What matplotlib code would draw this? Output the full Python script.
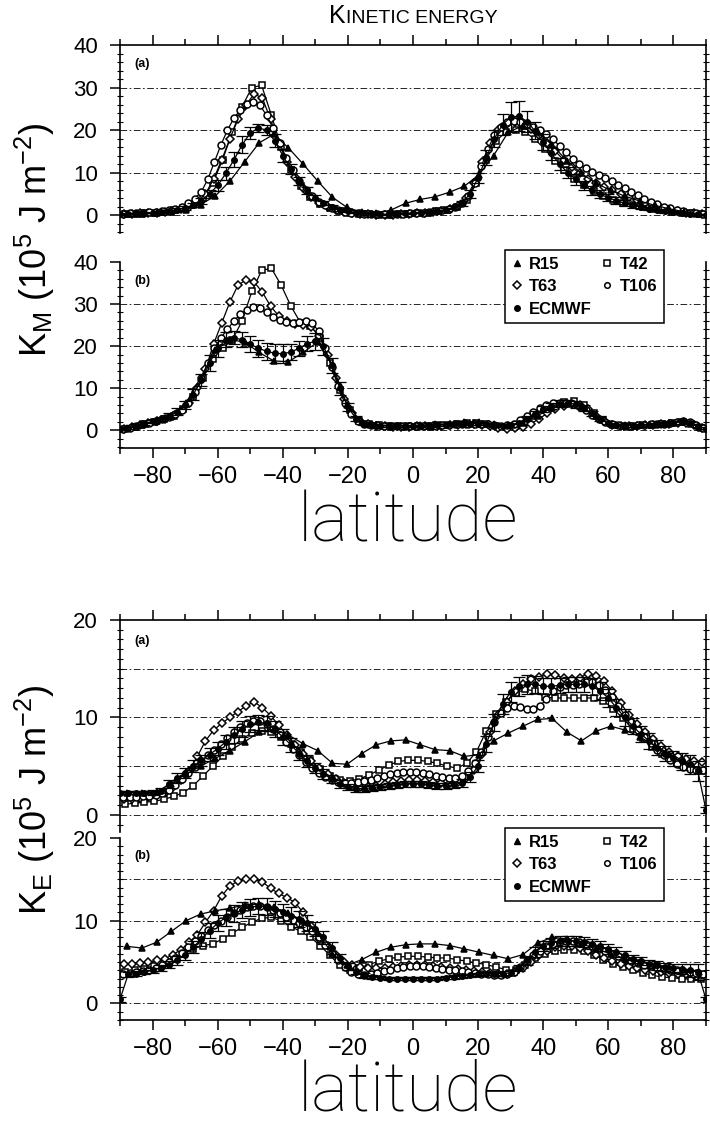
import numpy as np
import matplotlib
matplotlib.use("Agg")
import matplotlib.pyplot as plt
from matplotlib.lines import Line2D
from matplotlib.ticker import MultipleLocator

plt.rcParams['font.family'] = ['Liberation Sans', 'DejaVu Sans']
plt.rcParams['mathtext.default'] = 'regular'

# широтные сетки моделей
lat_r15 = np.arange(-87.75, 88, 4.5)
lat_t42 = np.arange(-88.5, 89, 3.0)
lat_t63 = np.arange(-88.75, 89, 2.5)
lat_t106 = np.arange(-89, 90, 2.0)
lat_ec = np.arange(-90, 90.1, 2.5)

series_names = ['R15', 'T42', 'T63', 'T106', 'ECMWF']

# ---- K_M, панель (a)
km_a_r15 = [0.2, 0.3, 0.5, 0.8, 1.3, 2.5, 4.5, 8.0, 12.5, 17.0,
            19.0, 15.8, 12.0, 8.0, 4.2, 1.8, 0.7, 0.4, 1.2, 2.8,
            3.7, 4.3, 5.4, 6.8, 9.5, 14.0, 19.5, 21.0, 19.5, 16.5,
            12.8, 9.8, 7.5, 5.8, 4.4, 3.3, 2.3, 1.5, 0.8, 0.3]
km_a_t42 = [0.2, 0.3, 0.4, 0.6, 0.8, 1.1, 1.6, 2.5, 4.0, 7.5,
            13.0, 19.5, 25.5, 30.0, 30.5, 23.5, 16.0, 10.5, 6.8, 4.3,
            2.7, 1.7, 1.0, 0.6, 0.3, 0.2, 0.1, 0.1, 0.2, 0.3,
            0.4, 0.6, 0.9, 1.3, 2.0, 3.5, 7.5, 13.0, 17.5, 19.5,
            20.0, 19.5, 17.8, 15.5, 12.8, 10.5, 8.5, 7.0, 5.6, 4.5,
            3.6, 2.9, 2.3, 1.8, 1.4, 1.1, 0.8, 0.6, 0.4, 0.2]
km_a_t63 = [0.2, 0.3, 0.4, 0.5, 0.6, 0.8, 1.0, 1.4, 2.0, 3.0,
            5.0, 8.5, 13.0, 18.0, 22.5, 26.0, 28.5, 27.5, 22.5, 17.0,
            12.5, 9.0, 6.3, 4.3, 2.9, 2.0, 1.3, 0.8, 0.5, 0.3,
            0.2, 0.1, 0.1, 0.1, 0.2, 0.3, 0.4, 0.5, 0.7, 1.0,
            1.4, 2.2, 4.0, 7.5, 12.5, 17.0, 20.0, 21.5, 22.0, 21.5,
            20.3, 18.8, 17.0, 15.0, 13.0, 11.3, 9.8, 8.6, 7.6, 6.7,
            5.8, 5.0, 4.2, 3.5, 2.8, 2.2, 1.7, 1.3, 0.9, 0.6,
            0.4, 0.2]
km_a_t106 = [0.3, 0.4, 0.5, 0.6, 0.7, 0.8, 1.0, 1.2, 1.5, 2.0,
             2.8, 3.9, 5.5, 8.5, 12.5, 16.5, 20.0, 22.8, 24.8, 26.2,
             26.6, 25.8, 23.5, 20.5, 17.0, 13.5, 10.5, 8.0, 6.0, 4.4,
             3.2, 2.3, 1.6, 1.1, 0.8, 0.6, 0.4, 0.3, 0.2, 0.2,
             0.2, 0.2, 0.3, 0.3, 0.4, 0.5, 0.6, 0.7, 0.9, 1.1,
             1.4, 1.9, 2.8, 4.5, 7.5, 11.5, 15.5, 18.8, 20.8, 21.8,
             22.2, 22.0, 21.5, 20.8, 20.0, 19.0, 17.8, 16.3, 14.8, 13.3,
             12.0, 11.0, 10.2, 9.5, 8.8, 8.0, 7.2, 6.3, 5.5, 4.7,
             3.9, 3.2, 2.6, 2.0, 1.6, 1.2, 0.9, 0.6, 0.4, 0.2]
km_a_ec = [0.2, 0.3, 0.4, 0.5, 0.6, 0.8, 1.0, 1.3, 1.7, 2.4,
           3.4, 5.0, 7.0, 9.8, 13.0, 16.5, 19.3, 20.5, 20.0, 17.5,
           14.0, 10.8, 8.0, 5.8, 4.1, 2.8, 1.9, 1.3, 0.9, 0.6,
           0.4, 0.3, 0.2, 0.2, 0.3, 0.4, 0.5, 0.6, 0.8, 1.0,
           1.3, 1.8, 2.8, 5.0, 8.8, 13.5, 18.0, 21.3, 23.0, 23.3,
           22.0, 19.8, 17.2, 14.5, 12.0, 10.0, 8.4, 7.0, 5.8, 4.9,
           4.1, 3.4, 2.8, 2.3, 1.9, 1.5, 1.2, 0.9, 0.7, 0.5,
           0.3, 0.2, 0.1]
km_a_err = [0.1, 0.1, 0.1, 0.1, 0.1, 0.2, 0.2, 0.3, 0.4, 0.5,
            0.7, 1.0, 1.3, 1.5, 1.8, 2.0, 1.5, 1.0, 1.2, 1.5,
            1.5, 1.2, 1.0, 0.8, 0.6, 0.5, 0.4, 0.3, 0.2, 0.2,
            0.1, 0.1, 0.1, 0.1, 0.1, 0.1, 0.1, 0.2, 0.2, 0.3,
            0.3, 0.4, 0.6, 0.9, 1.2, 1.8, 2.0, 2.5, 3.5, 3.5,
            2.5, 2.0, 1.8, 1.5, 1.4, 1.3, 1.2, 1.0, 1.0, 0.9,
            0.8, 0.8, 0.7, 0.6, 0.5, 0.4, 0.3, 0.3, 0.2, 0.2,
            0.1, 0.1, 0.1]

# ---- K_M, панель (b)
km_b_r15 = [0.5, 1.3, 2.1, 3.5, 6.5, 12.5, 19.0, 21.5, 21.0, 18.5,
            16.5, 16.3, 18.5, 21.0, 15.5, 6.0, 2.0, 1.3, 1.1, 1.1,
            1.2, 1.4, 1.6, 1.9, 2.0, 1.6, 1.2, 1.8, 3.5, 5.3,
            6.2, 5.5, 3.3, 1.6, 1.2, 1.3, 1.5, 1.8, 2.2, 0.8]
km_b_t42 = [0.4, 0.9, 1.5, 2.0, 2.6, 3.4, 5.0, 8.0, 12.5, 17.0,
            19.5, 21.5, 26.0, 33.0, 38.0, 38.5, 34.5, 29.5, 25.5, 24.8,
            22.0, 16.0, 9.5, 4.8, 2.3, 1.4, 1.2, 1.1, 1.0, 1.0,
            1.0, 1.1, 1.2, 1.3, 1.5, 1.7, 1.8, 1.6, 1.1, 0.8,
            1.0, 2.0, 3.5, 4.8, 5.9, 6.7, 6.9, 6.0, 4.2, 2.4,
            1.3, 1.0, 1.1, 1.2, 1.3, 1.5, 1.8, 2.0, 1.6, 0.6]
km_b_t63 = [0.3, 0.8, 1.3, 1.7, 2.1, 2.7, 3.4, 4.5, 6.5, 10.0,
            14.5, 20.5, 25.5, 30.5, 34.5, 35.8, 35.2, 32.8, 29.5, 27.2,
            26.0, 25.3, 25.0, 24.5, 22.5, 18.0, 12.5, 7.5, 4.0, 2.2,
            1.4, 1.1, 1.0, 0.9, 0.9, 0.9, 1.0, 1.0, 1.1, 1.1,
            1.2, 1.3, 1.4, 1.4, 1.3, 1.0, 0.6, 0.4, 0.5, 0.8,
            1.5, 2.8, 4.0, 5.0, 5.8, 6.2, 6.0, 5.0, 3.5, 2.2,
            1.3, 1.0, 1.0, 1.1, 1.2, 1.3, 1.4, 1.6, 1.8, 1.7,
            1.2, 0.5]
km_b_t106 = [0.3, 0.6, 1.0, 1.4, 1.8, 2.2, 2.6, 3.1, 3.8, 4.8,
             6.5, 9.0, 12.5, 16.0, 19.5, 22.0, 24.0, 26.0, 27.6, 28.6,
             29.2, 29.0, 28.0, 27.0, 26.3, 25.8, 25.6, 25.8, 26.0, 25.6,
             23.5, 19.5, 15.0, 10.5, 6.5, 3.8, 2.3, 1.6, 1.3, 1.2,
             1.1, 1.0, 1.0, 1.0, 1.0, 1.0, 1.0, 1.1, 1.1, 1.2,
             1.3, 1.4, 1.5, 1.6, 1.6, 1.5, 1.4, 1.2, 1.1, 1.2,
             1.6, 2.4, 3.4, 4.4, 5.3, 6.0, 6.4, 6.6, 6.6, 6.3,
             5.7, 4.8, 3.7, 2.7, 1.9, 1.4, 1.2, 1.1, 1.1, 1.2,
             1.3, 1.4, 1.5, 1.6, 1.8, 2.0, 2.1, 1.9, 1.3, 0.5]
km_b_ec = [0.2, 0.6, 1.1, 1.6, 2.1, 2.7, 3.4, 4.4, 6.0, 8.5,
           12.0, 16.0, 19.5, 21.5, 22.0, 21.5, 20.5, 19.5, 18.8, 18.3,
           18.2, 18.6, 19.5, 20.6, 21.2, 20.0, 15.5, 10.0, 5.5, 2.8,
           1.6, 1.2, 1.1, 1.0, 1.0, 1.0, 1.0, 1.0, 1.1, 1.2,
           1.3, 1.4, 1.5, 1.6, 1.6, 1.5, 1.3, 1.1, 1.2, 1.8,
           2.8, 3.9, 5.0, 5.8, 6.3, 6.5, 6.2, 5.3, 4.0, 2.8,
           1.8, 1.3, 1.1, 1.1, 1.2, 1.3, 1.4, 1.6, 1.8, 2.0,
           1.8, 1.1, 0.3]
km_b_err = [0.1, 0.2, 0.3, 0.3, 0.4, 0.5, 0.6, 0.8, 1.0, 1.3,
            1.5, 1.8, 2.0, 1.8, 1.6, 1.8, 2.0, 2.0, 2.0, 2.2,
            2.2, 2.0, 1.8, 1.8, 2.0, 2.0, 1.8, 1.5, 1.0, 0.6,
            0.3, 0.2, 0.2, 0.2, 0.2, 0.2, 0.2, 0.2, 0.2, 0.2,
            0.2, 0.2, 0.3, 0.3, 0.3, 0.3, 0.3, 0.3, 0.3, 0.4,
            0.5, 0.6, 0.7, 0.8, 0.8, 0.8, 0.8, 0.7, 0.6, 0.5,
            0.4, 0.3, 0.3, 0.3, 0.3, 0.3, 0.3, 0.3, 0.3, 0.4,
            0.4, 0.3, 0.1]

# ---- K_E, панель (a)
ke_a_r15 = [2.3, 2.3, 2.4, 3.2, 4.2, 5.0, 5.8, 6.6, 7.5, 8.5,
            8.8, 8.2, 7.3, 6.6, 5.3, 5.2, 6.3, 7.2, 7.6, 7.7,
            7.2, 6.7, 6.6, 6.0, 6.2, 7.6, 8.4, 9.1, 9.8, 9.9,
            8.5, 7.6, 8.6, 9.1, 8.7, 8.0, 7.1, 6.3, 5.5, 4.7]
ke_a_t42 = [1.1, 1.2, 1.3, 1.4, 1.6, 1.9, 2.3, 3.0, 4.0, 5.0,
            6.0, 7.0, 7.8, 8.4, 8.6, 8.5, 8.0, 7.3, 6.5, 5.6,
            4.7, 4.0, 3.6, 3.5, 3.7, 4.1, 4.6, 5.1, 5.5, 5.6,
            5.6, 5.5, 5.3, 5.0, 4.8, 5.3, 6.5, 8.6, 10.4, 11.6,
            12.5, 12.9, 12.7, 12.1, 12.0, 12.0, 12.0, 12.0, 12.0, 11.7,
            10.9, 9.9, 8.8, 7.9, 7.0, 6.3, 5.6, 5.1, 4.8, 4.5]
ke_a_t63 = [1.6, 1.6, 1.7, 1.8, 2.0, 2.3, 2.9, 3.6, 4.5, 6.0,
            7.6, 8.7, 9.4, 10.0, 10.6, 11.2, 11.6, 11.0, 10.2, 9.2,
            8.2, 7.2, 6.3, 5.5, 4.8, 4.2, 3.7, 3.3, 3.0, 2.9,
            2.9, 3.0, 3.2, 3.4, 3.5, 3.6, 3.6, 3.5, 3.4, 3.3,
            3.3, 3.4, 3.8, 4.6, 6.3, 8.5, 10.3, 11.6, 12.7, 13.4,
            13.9, 14.2, 14.5, 14.4, 14.0, 13.9, 14.1, 14.5, 14.3, 13.7,
            12.7, 11.5, 10.3, 9.3, 8.5, 7.8, 7.1, 6.5, 6.0, 5.7,
            5.5, 5.4]
ke_a_t106 = [1.8, 1.8, 1.8, 1.9, 1.9, 2.0, 2.2, 2.6, 3.1, 3.7,
             4.3, 4.9, 5.5, 6.1, 6.7, 7.3, 7.9, 8.5, 9.0, 9.4,
             9.6, 9.6, 9.3, 8.8, 8.2, 7.5, 6.8, 6.1, 5.4, 4.8,
             4.3, 3.9, 3.6, 3.4, 3.3, 3.3, 3.4, 3.5, 3.6, 3.8,
             4.0, 4.2, 4.3, 4.4, 4.4, 4.4, 4.3, 4.2, 4.0, 3.9,
             3.8, 3.8, 4.0, 4.5, 5.3, 6.5, 8.0, 9.5, 10.5, 11.0,
             11.2, 11.1, 10.9, 10.9, 11.2, 11.9, 12.7, 13.1, 13.3, 13.3,
             13.4, 13.6, 13.6, 13.3, 12.8, 12.1, 11.2, 10.3, 9.5, 8.7,
             8.0, 7.4, 6.7, 6.1, 5.6, 5.2, 4.9, 4.7, 4.6, 4.6]
ke_a_ec = [2.3, 2.3, 2.3, 2.3, 2.3, 2.5, 3.2, 3.8, 4.3, 5.0,
           5.6, 6.2, 6.8, 7.5, 8.2, 8.8, 9.3, 9.5, 9.4, 8.8,
           8.0, 7.2, 6.3, 5.5, 4.8, 4.2, 3.7, 3.2, 2.9, 2.7,
           2.7, 2.8, 2.9, 3.0, 3.1, 3.2, 3.2, 3.2, 3.1, 3.0,
           3.0, 3.1, 3.3, 3.9, 5.0, 7.3, 9.5, 11.4, 12.6, 13.2,
           13.4, 13.4, 13.2, 13.2, 13.3, 13.4, 13.4, 13.4, 13.2, 12.7,
           12.0, 11.0, 10.0, 9.1, 8.3, 7.6, 6.9, 6.3, 5.8, 5.5,
           5.2, 4.5, 0.5]
ke_a_err = [0.2, 0.2, 0.2, 0.2, 0.3, 0.3, 0.4, 0.5, 0.5, 0.6,
            0.6, 0.7, 0.7, 0.7, 0.8, 0.8, 0.8, 0.8, 0.8, 0.8,
            0.8, 0.7, 0.7, 0.6, 0.5, 0.5, 0.4, 0.4, 0.3, 0.3,
            0.3, 0.3, 0.3, 0.3, 0.3, 0.3, 0.3, 0.3, 0.3, 0.3,
            0.3, 0.3, 0.4, 0.5, 0.6, 0.8, 0.9, 1.0, 1.0, 1.0,
            1.0, 0.9, 0.8, 0.8, 0.8, 0.8, 0.8, 0.8, 0.9, 0.9,
            0.9, 0.9, 0.9, 0.8, 0.8, 0.8, 0.8, 0.8, 0.8, 0.9,
            1.0, 1.0, 0.3]

# ---- K_E, панель (b)
ke_b_r15 = [6.9, 6.7, 7.4, 8.7, 10.0, 10.8, 11.2, 11.5, 11.9, 12.0,
            11.6, 10.9, 10.0, 8.5, 6.0, 4.6, 5.3, 6.2, 6.8, 7.1,
            7.2, 7.2, 7.0, 6.6, 6.2, 5.8, 5.4, 5.9, 7.3, 8.0,
            7.8, 7.2, 6.6, 6.0, 5.4, 5.0, 4.7, 4.4, 4.1, 3.8]
ke_b_t42 = [3.8, 4.0, 4.2, 4.5, 4.9, 5.4, 6.0, 6.6, 7.0, 7.2,
            7.8, 8.5, 9.2, 9.8, 10.3, 10.4, 10.0, 9.3, 8.7, 8.0,
            7.0, 5.8, 4.6, 4.0, 4.3, 4.7, 5.1, 5.4, 5.6, 5.7,
            5.7, 5.6, 5.5, 5.5, 5.3, 5.1, 4.9, 4.7, 4.4, 4.1,
            4.0, 4.6, 5.5, 6.0, 6.3, 6.5, 6.5, 6.3, 5.9, 5.3,
            4.8, 4.4, 4.0, 3.7, 3.4, 3.2, 3.1, 3.0, 2.9, 2.9]
ke_b_t63 = [4.8, 4.8, 4.9, 5.0, 5.2, 5.4, 5.9, 6.5, 7.4, 8.3,
            9.8, 11.2, 13.0, 14.2, 14.8, 15.0, 15.0, 14.7, 13.9, 13.3,
            12.8, 12.2, 11.0, 9.4, 7.8, 6.9, 5.9, 5.0, 4.6, 4.4,
            4.3, 4.3, 4.3, 4.4, 4.5, 4.6, 4.6, 4.6, 4.5, 4.4,
            4.3, 4.2, 4.0, 3.9, 3.8, 3.7, 3.6, 3.6, 3.8, 4.3,
            5.0, 5.8, 6.4, 6.8, 6.9, 6.9, 6.7, 6.3, 5.9, 5.5,
            5.1, 4.8, 4.5, 4.3, 4.1, 3.9, 3.8, 3.7, 3.6, 3.5,
            3.4, 3.4]
ke_b_t106 = [3.6, 3.7, 3.8, 3.9, 4.1, 4.3, 4.6, 5.0, 5.5, 6.1,
             6.8, 7.5, 8.2, 8.9, 9.5, 10.0, 10.5, 10.9, 11.3, 11.6,
             11.8, 11.8, 11.6, 11.3, 10.9, 10.5, 10.1, 9.7, 9.2, 8.7,
             8.0, 7.1, 6.1, 5.2, 4.4, 3.8, 3.5, 3.4, 3.5, 3.7,
             3.9, 4.1, 4.3, 4.4, 4.5, 4.5, 4.5, 4.4, 4.3, 4.2,
             4.1, 4.0, 3.9, 3.8, 3.7, 3.6, 3.5, 3.4, 3.4, 3.5,
             3.8, 4.4, 5.1, 5.8, 6.4, 6.9, 7.2, 7.4, 7.5, 7.5,
             7.4, 7.2, 6.9, 6.6, 6.3, 6.0, 5.7, 5.4, 5.1, 4.9,
             4.7, 4.5, 4.3, 4.2, 4.1, 4.0, 3.9, 3.8, 3.7, 3.6]
ke_b_ec = [0.5, 3.5, 3.6, 3.8, 4.0, 4.3, 4.7, 5.2, 5.9, 6.8,
           7.8, 8.8, 9.7, 10.4, 10.9, 11.3, 11.6, 11.8, 11.7, 11.4,
           11.0, 10.6, 10.2, 9.7, 9.0, 8.0, 6.7, 5.5, 4.5, 3.8,
           3.4, 3.2, 3.1, 3.0, 3.0, 3.0, 3.0, 3.0, 3.0, 3.0,
           3.1, 3.2, 3.3, 3.4, 3.5, 3.6, 3.6, 3.6, 3.7, 4.3,
           5.2, 6.2, 6.9, 7.3, 7.5, 7.6, 7.5, 7.4, 7.2, 6.9,
           6.6, 6.2, 5.8, 5.4, 5.1, 4.8, 4.6, 4.4, 4.3, 4.2,
           4.0, 3.8, 0.5]
ke_b_err = [0.3, 0.3, 0.3, 0.3, 0.3, 0.4, 0.4, 0.5, 0.6, 0.7,
            0.8, 0.9, 1.0, 1.0, 1.0, 1.0, 1.0, 1.0, 1.0, 1.0,
            1.0, 1.0, 1.0, 1.0, 0.9, 0.8, 0.7, 0.5, 0.4, 0.3,
            0.3, 0.2, 0.2, 0.2, 0.2, 0.2, 0.2, 0.2, 0.2, 0.2,
            0.2, 0.2, 0.2, 0.2, 0.2, 0.2, 0.2, 0.3, 0.3, 0.4,
            0.5, 0.6, 0.6, 0.6, 0.6, 0.6, 0.6, 0.6, 0.6, 0.6,
            0.6, 0.6, 0.5, 0.5, 0.5, 0.5, 0.5, 0.5, 0.5, 0.6,
            0.8, 1.0, 0.3]

#1. Фигура в пикселях исходника
W, H = 710, 1130
fig = plt.figure(figsize=(W / 100, H / 100), dpi=100)


def add_ax(top, bottom):
    return fig.add_axes([120 / W, 1 - bottom / H, 586 / W, (bottom - top) / H])


grid_ls = (0, (8, 3, 2, 3))


def panel(ax, data, ylim, ymajor, yminor, grid, tag, upper):
    r15, t42, t63, t106, ec, err = data
    for g in grid:
        ax.axhline(g, color='k', lw=0.6, ls=grid_ls, zorder=0)
    kw = dict(color='k', lw=0.9, mec='k', mew=1.1)
    ax.plot(lat_t42, t42, marker='s', ms=5.0, mfc='white', **kw)
    ax.plot(lat_t63, t63, marker='D', ms=4.5, mfc='white', **kw)
    ax.plot(lat_t106, t106, marker='o', ms=5.0, mfc='white', **kw)
    ax.errorbar(lat_ec, ec, yerr=err, fmt='-o', color='k', lw=0.9, ms=4.0,
                elinewidth=0.9, capsize=4, capthick=0.9)
    ax.plot(lat_r15, r15, marker='^', ms=4.2, mfc='k', **kw)

    ax.set_xlim(-90, 90)
    ax.set_ylim(*ylim)
    ax.patch.set_alpha(0)
    for s in ax.spines.values():
        s.set_linewidth(1.2)
    ax.spines['bottom'].set_visible(not upper)
    ax.spines['top'].set_visible(upper)

    ax.xaxis.set_major_locator(MultipleLocator(20))
    ax.xaxis.set_minor_locator(MultipleLocator(10))
    ax.yaxis.set_major_locator(MultipleLocator(ymajor))
    ax.yaxis.set_minor_locator(MultipleLocator(yminor))
    ax.tick_params(axis='x', which='both', direction='out', width=1.1,
                   top=upper, bottom=not upper, labeltop=False,
                   labelbottom=not upper, labelsize=17, pad=6)
    ax.tick_params(axis='x', which='major', length=7)
    ax.tick_params(axis='x', which='minor', length=4)
    ax.tick_params(axis='y', which='major', direction='out', length=7,
                   width=1.1, labelsize=16, pad=9, right=False)
    ax.tick_params(axis='y', which='minor', direction='inout', length=4,
                   width=0.8, right=True)
    ax.text(0.025, 0.9, tag, transform=ax.transAxes, fontsize=9,
            fontweight='bold', va='center')


km_a = add_ax(45, 233)
km_b = add_ax(262, 448)
ke_a = add_ax(620, 832)
ke_b = add_ax(838, 1020)

panel(km_a, (km_a_r15, km_a_t42, km_a_t63, km_a_t106, km_a_ec, km_a_err),
      (-4.2, 40), 10, 2, [0, 10, 20, 30], '(a)', True)
panel(km_b, (km_b_r15, km_b_t42, km_b_t63, km_b_t106, km_b_ec, km_b_err),
      (-4.2, 40), 10, 2, [0, 10, 20, 30], '(b)', False)
panel(ke_a, (ke_a_r15, ke_a_t42, ke_a_t63, ke_a_t106, ke_a_ec, ke_a_err),
      (-1.75, 20), 10, 1, [0, 5, 10, 15], '(a)', True)
panel(ke_b, (ke_b_r15, ke_b_t42, ke_b_t63, ke_b_t106, ke_b_ec, ke_b_err),
      (-2.0, 20), 10, 1, [0, 5, 10, 15], '(b)', False)

#2. Подписи осей
lbl_font = dict(fontsize=26, rotation=90, ha='center', va='center')
fig.text(35 / W, 1 - 240 / H, r'K$_{M}$ (10$^{5}$ J m$^{-2}$)', **lbl_font)
fig.text(35 / W, 1 - 800 / H, r'K$_{E}$ (10$^{5}$ J m$^{-2}$)', **lbl_font)
for y in (522, 1092):
    fig.text(408 / W, 1 - y / H, 'latitude', fontsize=50, ha='center',
             va='center', family=['Roboto', 'Liberation Sans'], weight='light')

#3. Заголовок капителью
r = fig.canvas.get_renderer()
t1 = fig.text(0, 0, 'K', fontsize=18, va='baseline')
t2 = fig.text(0, 0, 'INETIC ENERGY', fontsize=14, va='baseline')
w1 = t1.get_window_extent(r).width
w2 = t2.get_window_extent(r).width
x0 = 413 - (w1 + w2) / 2
t1.set_position((x0 / W, 1 - 23 / H))
t2.set_position(((x0 + w1) / W, 1 - 23 / H))

#4. Легенды
handles = [
    Line2D([], [], ls='none', marker='^', ms=4.5, color='k'),
    Line2D([], [], ls='none', marker='D', ms=4.5, mfc='white', mec='k', mew=1.1),
    Line2D([], [], ls='none', marker='o', ms=4, color='k'),
    Line2D([], [], ls='none', marker='s', ms=4.5, mfc='white', mec='k', mew=1.1),
    Line2D([], [], ls='none', marker='o', ms=4, mfc='white', mec='k', mew=1.1),
]
labels = ['R15', 'T63', 'ECMWF', 'T42', 'T106']
for top in (250, 828):
    leg = fig.legend(handles, labels, ncol=2, loc='upper left',
                     bbox_to_anchor=(505 / W, 1 - top / H),
                     bbox_transform=fig.transFigure, frameon=True,
                     fancybox=False, edgecolor='k', framealpha=1,
                     prop=dict(size=12, weight='bold'), handlelength=0.6,
                     handletextpad=0.45, columnspacing=0.6, labelspacing=0.45,
                     borderpad=0.4, borderaxespad=0)
    leg.get_frame().set_linewidth(1.1)

fig.savefig('out.png', dpi=100)
